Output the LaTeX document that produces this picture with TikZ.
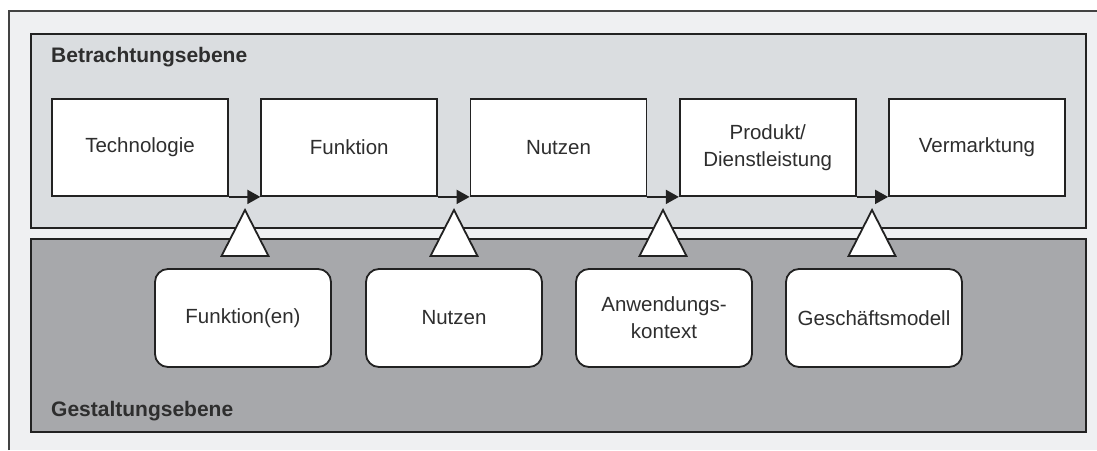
\documentclass[tikz,border=0pt]{standalone}
\usepackage{fontspec}
\setmainfont{Liberation Sans}
\usetikzlibrary{arrows.meta,calc}
\definecolor{pagebg}{HTML}{EFF0F2}
\definecolor{upperbg}{HTML}{DADDE0}
\definecolor{lowerbg}{HTML}{A7A8AB}
\definecolor{ink}{HTML}{222222}
\definecolor{txt}{HTML}{2E2E2E}
\begin{document}
\begin{tikzpicture}[x=1pt,y=-1pt,
  every node/.style={text=txt,font=\fontsize{20.5}{27}\selectfont},
  panel/.style={draw=ink,line width=1.8pt},
  stagebox/.style={draw=ink,fill=white,line width=1.8pt,minimum width=176pt,minimum height=97pt,align=center,inner sep=0pt},
  driverbox/.style={draw=ink,fill=white,line width=1.8pt,rounded corners=13pt,minimum width=176pt,minimum height=98pt,align=center,inner sep=0pt},
  flow/.style={draw=ink,line width=1.8pt,-{Triangle[length=13pt,width=14pt]}},
  wedge/.style={draw=ink,fill=white,line width=1.8pt,line join=miter},
  level/.style={font=\bfseries\fontsize{21}{25}\selectfont,anchor=west,inner sep=0pt}]
\useasboundingbox (0,0) rectangle (1097,450);
% page frame, open to the right and below
\fill[pagebg] (9,11) rectangle (1097,450);
\draw[draw=ink!85,line width=1.8pt] (9,450) -- (9,11) -- (1097,11);
% the two levels
\filldraw[panel,fill=upperbg] (31,34) rectangle (1086,228);
\filldraw[panel,fill=lowerbg] (31,239) rectangle (1086,432);
\node[level] (lvlA) at (51,57) {Betrachtungsebene};
\node[level] (lvlB) at (51,411) {Gestaltungsebene};
% stages
\node[stagebox] (s1) at (140,147.5) {Technologie};
\node[stagebox] (s2) at (349.25,147.5) {Funktion};
\node[stagebox] (s3) at (558.5,147.5) {Nutzen};
\node[stagebox] (s4) at (767.75,147.5) {Produkt/\\Dienstleistung};
\node[stagebox] (s5) at (977,147.5) {Vermarktung};
\draw[flow] (s1.south east) -- (s2.south west);
\draw[flow] (s2.south east) -- (s3.south west);
\draw[flow] (s3.south east) -- (s4.south west);
\draw[flow] (s4.south east) -- (s5.south west);
% drivers
\node[driverbox] (d1) at (243,318) {Funktion(en)};
\node[driverbox] (d2) at (454,318) {Nutzen};
\node[driverbox] (d3) at (664,318) {Anwendungs-\\kontext};
\node[driverbox] (d4) at (874,318) {Geschäftsmodell};
% wedges between the levels
\foreach \i/\x in {1/245,2/454,3/663,4/872}{
  \coordinate (w\i) at (\x,210);
  \draw[wedge] (w\i) -- ++(23.5,46) -- ++(-47,0) -- cycle;
}
\end{tikzpicture}
\end{document}
